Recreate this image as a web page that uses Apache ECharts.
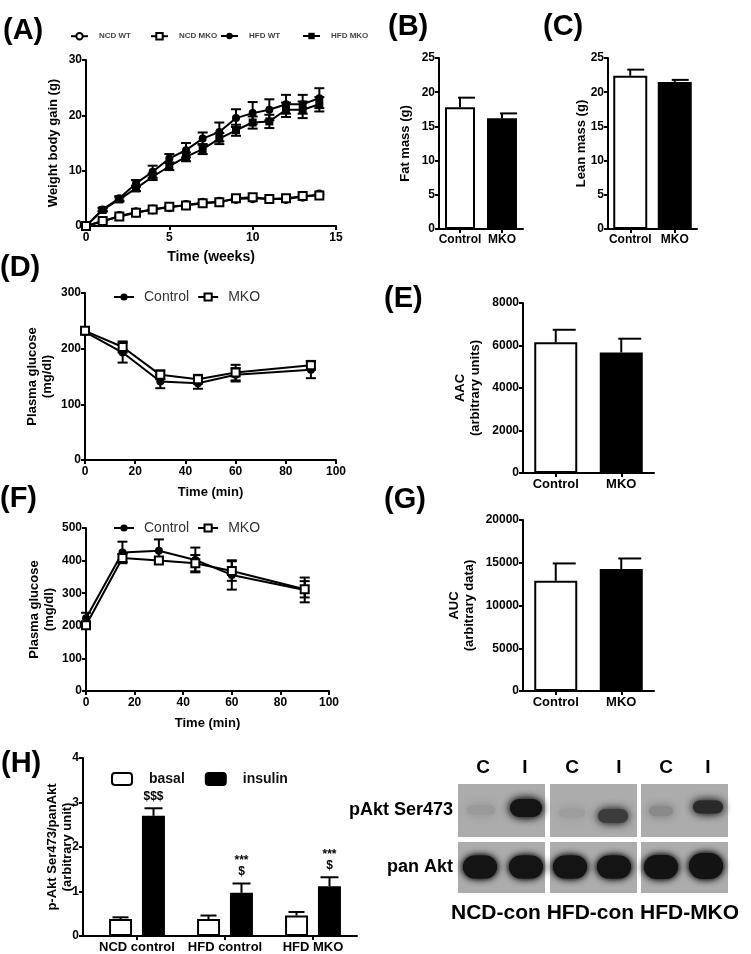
<!DOCTYPE html>
<html><head><meta charset="utf-8">
<script src="https://cdn.jsdelivr.net/npm/echarts@6/dist/echarts.min.js"></script>
<style>html,body{margin:0;padding:0;background:#fff}#c{width:751px;height:954px}</style>
</head><body><div id="c"></div>
<script>
// ---------- DATA ----------
// (A) weight gain
const weeks = [0,1,2,3,4,5,6,7,8,9,10,11,12,13,14];
const ncdWT     = [0,0.8,1.8,2.5,3.0,3.4,3.8,4.2,4.4,4.9,5.0,4.9,4.9,5.3,5.7];
const ncdWTErr  = [0,0.2,0.2,0.3,0.3,0.3,0.3,0.4,0.3,0.4,0.4,0.4,0.4,0.4,0.4];
const ncdMKO    = [0,0.9,1.7,2.4,3.0,3.5,3.7,4.1,4.3,5.0,5.2,4.9,5.0,5.4,5.5];
const ncdMKOErr = [0,0.2,0.2,0.2,0.3,0.3,0.3,0.3,0.3,0.3,0.5,0.3,0.3,0.4,0.4];
const hfdWT     = [0,3.0,5.0,7.7,9.8,12.2,13.7,15.8,17.0,19.5,20.4,21.0,22.0,22.0,23.1];
const hfdWTErr  = [0,0.3,0.4,0.6,1.1,0.8,1.3,1.1,1.7,1.6,2.0,1.9,1.7,1.7,1.8];
const hfdMKO    = [0,2.9,4.8,6.8,8.9,10.8,12.5,13.9,15.8,17.3,18.7,18.9,21.0,21.0,22.0];
const hfdMKOErr = [0,0.3,0.4,0.5,0.6,0.7,0.8,0.9,1.0,1.0,1.1,1.2,1.3,1.5,1.3];
// (B)(C)(E)(G) two-group bars
const groups = ['Control','MKO'];
const fatMass = [17.8, 16.2];  const fatErr = [1.4, 0.7];
const leanMass = [22.4, 21.5]; const leanErr = [0.9, 0.3];
const aac = [6150, 5670];      const aacErr = [590, 650];
const auc = [12890, 14260];    const aucErr = [2030, 1240];
// (D) ITT
const ittTime = [0,15,30,45,60,90];
const ittControl = [230,193,141,138,153,162]; const ittControlErr = [4,18,12,10,12,15];
const ittMKO     = [232,203,153,145,157,170]; const ittMKOErr     = [4,10,8,8,14,8];
// (F) GTT
const gttTime = [0,15,30,45,60,90];
const gttControl = [223,425,430,402,356,310]; const gttControlErr = [17,33,35,38,45,38];
const gttMKO     = [202,408,400,392,368,312]; const gttMKOErr     = [10,12,10,25,30,25];
// (H) pAkt
const aktCats = ['NCD control','HFD control','HFD MKO'];
const basal = [0.38,0.38,0.46];   const basalErr = [0.04,0.08,0.08];
const insulin = [2.70,0.97,1.12]; const insulinErr = [0.17,0.21,0.20];
const aktMarks = [['$$$'],['***','$'],['***','$']];
// blot labels
const laneLabels = ['C','I','C','I','C','I'];
const blotRows = ['pAkt Ser473','pan Akt'];
const blotGroups = 'NCD-con HFD-con HFD-MKO';

// ---------- STYLE HELPERS ----------
const FF = '"Liberation Sans", Arial, sans-serif';
const BLK = '#000';
const axLine = {show:true, onZero:false, lineStyle:{color:BLK, width:2}};
const axTick = {show:true, length:4, lineStyle:{color:BLK, width:2}};
const axLab = (fs)=>({color:BLK, fontWeight:'bold', fontSize:fs||12, fontFamily:FF, margin:5,
  interval:0, hideOverlap:false, formatter:(v)=>String(v)});
const nameTS = {color:BLK, fontWeight:'bold', fontSize:13, fontFamily:FF, lineHeight:15};

const grids = [
  {left:86, top:60, width:250, height:166},   // A 0
  {left:439, top:58, width:84, height:171},   // B 1
  {left:608, top:58, width:89, height:171},   // C 2
  {left:85, top:293, width:251, height:167},  // D 3
  {left:523, top:303, width:131, height:170}, // E 4
  {left:86, top:528, width:243, height:163},  // F 5
  {left:523, top:520, width:131, height:171}, // G 6
  {left:93, top:758, width:264, height:178}   // H 7
];

function valX(gi, max, interval, name){
  return {type:'value', gridIndex:gi, min:0, max:max, interval:interval,
    axisLine:axLine, axisTick:axTick, axisLabel:Object.assign(axLab(12),{margin:6}), splitLine:{show:false},
    name:name, nameLocation:'middle', nameGap:24, nameTextStyle:Object.assign({},nameTS,{fontSize:14})};
}
function catX(gi, cats, fs){
  return {type:'category', gridIndex:gi, data:cats, boundaryGap:true,
    axisLine:axLine, axisTick:Object.assign({},axTick,{alignWithLabel:true, interval:0}),
    axisLabel:Object.assign(axLab(fs||12),{margin:5}), splitLine:{show:false}};
}
function valY(gi, max, interval, name, gap, extra){
  return Object.assign({type:'value', gridIndex:gi, min:0, max:max, interval:interval,
    axisLine:axLine, axisTick:axTick, axisLabel:Object.assign(axLab(12),{margin:4}), splitLine:{show:false},
    name:name, nameLocation:'middle', nameGap:gap, nameTextStyle:nameTS, nameMoveOverlap:false}, extra||{});
}

// error-bar renderer
function errRender(opt){
  return function(params, api){
    const x = api.value(0), y = api.value(1), e = api.value(2);
    const t = api.coord([x, y + e]);
    const b = api.coord([x, opt.oneSided ? y : y - e]);
    const cx = t[0] + (opt.dx||0);
    const st = {stroke:BLK, lineWidth:2};
    const ch = [
      {type:'line', shape:{x1:cx, y1:t[1], x2:cx, y2:b[1]}, style:st},
      {type:'line', shape:{x1:cx-opt.capL, y1:t[1], x2:cx+opt.capR, y2:t[1]}, style:st}
    ];
    if(!opt.oneSided) ch.push({type:'line', shape:{x1:cx-opt.capL, y1:b[1], x2:cx+opt.capR, y2:b[1]}, style:st});
    if(opt.marks){
      const m = opt.marks[params.dataIndex];
      m.forEach((s,k)=>{
        ch.push({type:'text', style:{text:s, x:cx, y:t[1]-6-(m.length-1-k)*11, align:'center', verticalAlign:'bottom',
          font:'bold 12px '+FF, fill:BLK}});
      });
    }
    return {type:'group', children:ch};
  };
}
function errSeries(xi, xs, vals, errs, opt, z){
  return {type:'custom', xAxisIndex:xi, yAxisIndex:xi, clip:false, z:z||3, silent:true,
    renderItem:errRender(opt), data:vals.map((v,i)=>[xs[i], v, errs[i]])};
}
function lineSeries(xi, name, xs, vals, symbol, empty){
  return {type:'line', name:name, xAxisIndex:xi, yAxisIndex:xi, data:vals.map((v,i)=>[xs[i], v]),
    symbol:symbol, symbolSize: 8, showSymbol:true, z: empty ? 5 : 4,
    lineStyle:{color:BLK, width:2},
    itemStyle: empty ? {color:BLK, borderColor:BLK, borderWidth:1.6} : {color:BLK, borderWidth:0}};
}
function twoBar(xi, vals, bw){
  return {type:'bar', xAxisIndex:xi, yAxisIndex:xi, barWidth:bw, z:2,
    data:vals.map((v,i)=>({value:v, itemStyle: i===0 ? {color:'#fff', borderColor:BLK, borderWidth:2} : {color:BLK, borderColor:BLK, borderWidth:2}}))};
}
const idx2 = [0,1], idx3 = [0,1,2];

const series = [
  // A
  errSeries(0, weeks, ncdWT, ncdWTErr, {capL:4, capR:4}),
  errSeries(0, weeks, ncdMKO, ncdMKOErr, {capL:4, capR:4}),
  errSeries(0, weeks, hfdWT, hfdWTErr, {capL:5, capR:5}),
  errSeries(0, weeks, hfdMKO, hfdMKOErr, {capL:5, capR:5}),
  lineSeries(0, 'NCD WT', weeks, ncdWT, 'emptyCircle', true),
  lineSeries(0, 'NCD MKO', weeks, ncdMKO, 'emptyRect', true),
  lineSeries(0, 'HFD WT', weeks, hfdWT, 'circle', false),
  lineSeries(0, 'HFD MKO', weeks, hfdMKO, 'rect', false),
  // B
  twoBar(1, fatMass, 30),
  errSeries(1, idx2, fatMass, fatErr, {oneSided:true, capL:2, capR:15}),
  // C
  twoBar(2, leanMass, 34),
  errSeries(2, idx2, leanMass, leanErr, {oneSided:true, capL:3, capR:14}),
  // D
  errSeries(3, ittTime, ittControl, ittControlErr, {capL:5, capR:5}),
  errSeries(3, ittTime, ittMKO, ittMKOErr, {capL:5, capR:5}),
  lineSeries(3, 'Control', ittTime, ittControl, 'circle', false),
  lineSeries(3, 'MKO', ittTime, ittMKO, 'emptyRect', true),
  // E
  twoBar(4, aac, 43),
  errSeries(4, idx2, aac, aacErr, {oneSided:true, capL:3, capR:20}),
  // F
  errSeries(5, gttTime, gttControl, gttControlErr, {capL:5, capR:5}),
  errSeries(5, gttTime, gttMKO, gttMKOErr, {capL:5, capR:5}),
  lineSeries(5, 'Control', gttTime, gttControl, 'circle', false),
  lineSeries(5, 'MKO', gttTime, gttMKO, 'emptyRect', true),
  // G
  twoBar(6, auc, 43),
  errSeries(6, idx2, auc, aucErr, {oneSided:true, capL:3, capR:20}),
  // H
  {type:'bar', name:'basal', xAxisIndex:7, yAxisIndex:7, data:basal, barWidth:23, barGap:'43%', z:2,
    itemStyle:{color:'#fff', borderColor:BLK, borderWidth:2}},
  {type:'bar', name:'insulin', xAxisIndex:7, yAxisIndex:7, data:insulin, barWidth:23, barGap:'43%', z:2,
    itemStyle:{color:BLK, borderColor:BLK, borderWidth:2}},
  errSeries(7, idx3, basal, basalErr, {oneSided:true, dx:-16.5, capL:8, capR:8}),
  errSeries(7, idx3, insulin, insulinErr, {oneSided:true, dx:16.5, capL:9, capR:9, marks:aktMarks})
];

const xAxis = [
  valX(0, 15, 5, 'Time (weeks)'),
  catX(1, groups, 12),
  catX(2, groups, 12),
  Object.assign(valX(3, 100, 20, 'Time (min)'), {nameGap:25, nameTextStyle:Object.assign({},nameTS,{fontSize:13})}),
  catX(4, groups, 13),
  Object.assign(valX(5, 100, 20, 'Time (min)'), {nameGap:25, nameTextStyle:Object.assign({},nameTS,{fontSize:13})}),
  catX(6, groups, 13),
  catX(7, aktCats, 13)
];
const yAxis = [
  valY(0, 30, 10, 'Weight body gain (g)', 25),
  valY(1, 25, 5, 'Fat mass (g)', 26),
  valY(2, 25, 5, 'Lean mass (g)', 19),
  valY(3, 300, 100, 'Plasma glucose\n(mg/dl)', 30),
  valY(4, 8000, 2000, 'AAC\n(arbitrary units)', 40),
  valY(5, 500, 100, 'Plasma glucose\n(mg/dl)', 29),
  valY(6, 20000, 5000, 'AUC\n(arbitrary data)', 46),
  valY(7, 4, 1, 'p-Akt Ser473/panAkt\n(arbitrary unit)', 8, {offset:10})
];

const lgA = (name, left)=>({data:[name], left:left, top:27, itemWidth:17, itemHeight:8, itemGap:0,
  textStyle:{fontSize:8, fontWeight:'bold', color:'#444', fontFamily:FF, padding:[0,0,0,6]}});
const lgLine = (top)=>({data:['Control','MKO'], left:108, top:top, itemWidth:20, itemHeight:9, itemGap:8,
  textStyle:{fontSize:14, color:'#333', fontFamily:FF, padding:[0,0,0,5]}});
const legend = [
  lgA('NCD WT', 65), lgA('NCD MKO', 145), lgA('HFD WT', 215), lgA('HFD MKO', 297),
  lgLine(285), lgLine(516),
  {data:['basal','insulin'], left:106, top:767, itemWidth:20, itemHeight:12, itemGap:20,
    textStyle:{fontSize:14, fontWeight:'bold', color:'#111', fontFamily:FF, padding:[0,0,0,12]}}
];

// ---------- GRAPHIC (panel letters, blot) ----------
const graphic = [];
function T(text, x, y, font, align){
  graphic.push({type:'text', silent:true, style:{text:text, x:x, y:y, font:font, fill:BLK, align:align||'left', verticalAlign:'middle'}});
}
const PL = 'bold 29px '+FF;
T('(A)', 3, 31, PL); T('(B)', 388, 27, PL); T('(C)', 543, 27, PL);
T('(D)', 0, 268, PL); T('(E)', 384, 299, PL);
T('(F)', 0, 499, PL); T('(G)', 384, 500, PL);
T('(H)', 1, 764, PL);
// x-axis joint for H
graphic.push({type:'line', silent:true, shape:{x1:82, y1:936, x2:94, y2:936}, style:{stroke:BLK, lineWidth:2}});

// blot panels
const panelX = [458, 550, 641];
const rowY = [[784, 53], [842, 51]];
panelX.forEach(px=>rowY.forEach(r=>{
  graphic.push({type:'rect', silent:true, shape:{x:px, y:r[0], width:87, height:r[1]}, style:{fill:'#acacac'}});
}));
// [cx, cy, w, h, color, blur]
const bands = [
  // pAkt row
  [481,810,28,9,'#9a9a9a',9], [526,808,32,18,'#141414',8],
  [572,813,26,9,'#9e9e9e',9], [613,816,30,14,'#3c3c3c',8],
  [661,811,24,10,'#8a8a8a',8], [708,807,30,13,'#2a2a2a',8],
  // pan Akt row
  [480,867,34,23,'#141414',7], [526,867,34,23,'#141414',7],
  [570,867,34,23,'#141414',7], [614,867,34,23,'#141414',7],
  [661,867,34,24,'#131313',7], [706,866,34,26,'#131313',7]
];
bands.forEach(b=>{
  graphic.push({type:'ellipse', silent:true,
    shape:{cx:b[0], cy:b[1], rx:b[2]/2, ry:b[3]/2},
    style:{fill:b[4], shadowBlur:b[5], shadowColor:b[4]}});
  graphic.push({type:'rect', silent:true,
    shape:{x:b[0]-b[2]/2, y:b[1]-b[3]/2, width:b[2], height:b[3], r:Math.min(b[2],b[3])/2},
    style:{fill:b[4], shadowBlur:b[5], shadowColor:b[4]}});
});
const laneX = [483, 525, 572, 619, 666, 708];
laneLabels.forEach((s,i)=>T(s, laneX[i], 768, 'bold 19px '+FF, 'center'));
T(blotRows[0], 453, 810, 'bold 18px '+FF, 'right');
T(blotRows[1], 453, 867, 'bold 18px '+FF, 'right');
T(blotGroups, 451, 913, 'bold 21px '+FF, 'left');

const chart = echarts.init(document.getElementById('c'), null, {renderer:'canvas'});
chart.setOption({
  animation:false, backgroundColor:'#fff',
  textStyle:{fontFamily:FF},
  grid:grids, xAxis:xAxis, yAxis:yAxis, series:series, legend:legend, graphic:graphic
});
</script></body></html>
